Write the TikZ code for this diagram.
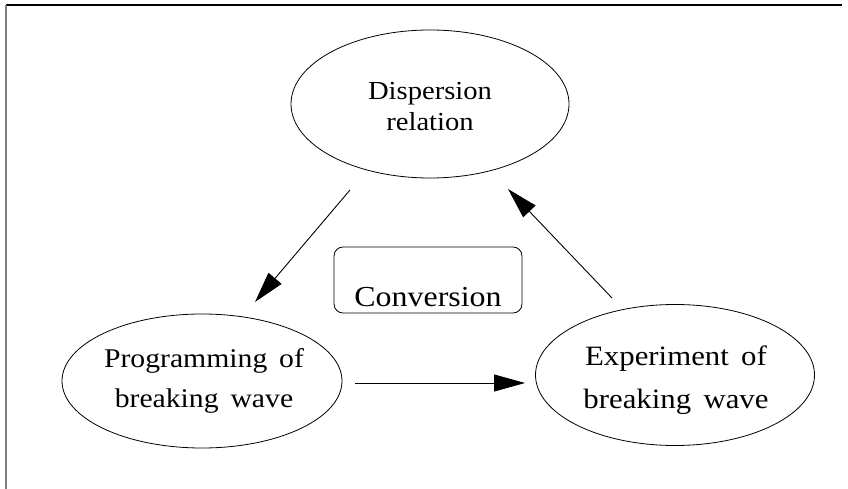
\documentclass[tikz,border=0pt]{standalone}
\usepackage{fontspec}
\setmainfont{Liberation Serif}[FakeStretch=1.1, WordSpace=1.6]
\usetikzlibrary{shapes.geometric, arrows.meta}
\begin{document}
\begin{tikzpicture}[x=1pt,y=-1pt,
  ell/.style={draw, ellipse, line width=0.8pt, inner sep=0pt},
  lbl/.style={anchor=base, inner sep=0pt},
  arr/.style={line width=0.9pt, -{Triangle[length=31pt,width=17pt]}},
  fA/.style={font=\fontsize{26}{26}\selectfont},
  fB/.style={font=\fontsize{27}{27}\selectfont},
  fC/.style={font=\fontsize{28}{28}\selectfont},
]
\useasboundingbox (0,0) rectangle (848,489);
% frame
\coordinate (tl) at (6,5);
\coordinate (tr) at (842,5);
\coordinate (bl) at (6,489);
\draw[line width=2pt] (tl) -- (tr);
\draw[gray, line width=1.2pt] (tl) -- (bl);

% ellipses
\node[ell, minimum width=278pt, minimum height=148pt] (disp) at (430,104) {};
\node[ell, minimum width=280pt, minimum height=134pt] (prog) at (202,381) {};
\node[ell, minimum width=279pt, minimum height=141pt] (expt) at (675,375) {};

% texts
\node[lbl, fA] (disp1) at (430,100) {Dispersion};
\node[lbl, fA] (disp2) at (430,131) {relation};
\node[lbl, fB] (prog1) at (204,367) {Programming of};
\node[lbl, fB] (prog2) at (204,407) {breaking wave};
\node[lbl, fC] (expt1) at (676,365) {Experiment of};
\node[lbl, fC] (expt2) at (676,408) {breaking wave};

% conversion box
\node[draw, rounded corners=9pt, line width=0.8pt, inner sep=0pt,
      minimum width=188pt, text height=59pt, text depth=7pt, anchor=base,
      font=\fontsize{29}{29}\selectfont] (conv) at (428,306) {Conversion};

% arrows
\coordinate (a1s) at (350,190);
\coordinate (a1e) at (255,302);
\coordinate (a2s) at (355,383);
\coordinate (a2e) at (525,383);
\coordinate (a3s) at (612,298);
\coordinate (a3e) at (508,189);
\draw[arr] (a1s) -- (a1e);
\draw[arr] (a2s) -- (a2e);
\draw[arr] (a3s) -- (a3e);
\end{tikzpicture}
\end{document}
